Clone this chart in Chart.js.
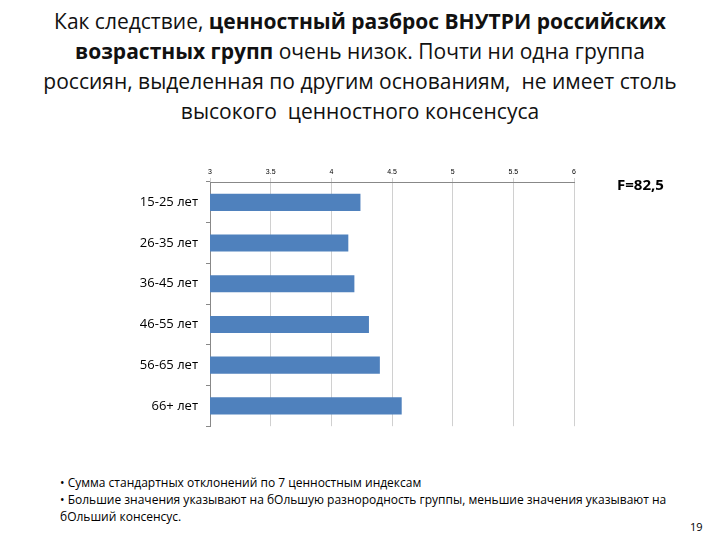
<!DOCTYPE html>
<html><head><meta charset="utf-8">
<script src="https://cdn.jsdelivr.net/npm/chart.js@4"></script>
<style>
body{margin:0;width:720px;height:540px;position:relative;background:#fff;font-family:"Open Sans",sans-serif;overflow:hidden}
#t{position:absolute;left:0;top:6px;width:720px;text-align:center;font-size:21px;line-height:30px;color:#111}
#c{position:absolute;left:0;top:150px}
#f{position:absolute;left:617px;top:174px;font-size:15px;font-weight:bold}
#n{position:absolute;left:60px;top:474px;font-size:12px;line-height:17px;width:620px}
#p{position:absolute;left:690px;top:519px;font-size:11px}
</style></head><body>
<div id="t">Как следствие, <b>ценностный разброс ВНУТРИ российских<br>возрастных групп</b> очень низок. Почти ни одна группа<br>россиян, выделенная по другим основаниям,&nbsp; не имеет столь<br>высокого&nbsp; ценностного консенсуса</div>
<canvas id="c" width="720" height="292"></canvas>
<div id="f">F=82,5</div>
<div id="n">• Сумма стандартных отклонений по 7 ценностным индексам<br>• Большие значения указывают на бОльшую разнородность группы, меньшие значения указывают на бОльший консенсус.</div>
<div id="p">19</div>
<script>
const categories=["15-25 лет","26-35 лет","36-45 лет","46-55 лет","56-65 лет","66+ лет"];
const values=[4.24,4.14,4.19,4.31,4.40,4.58];
const tickValues=[3,3.5,4,4.5,5,5.5,6];
new Chart(document.getElementById('c'),{type:'bar',
data:{labels:categories,datasets:[{data:values,backgroundColor:'#4f81bd',barPercentage:0.42,categoryPercentage:1}]},
options:{indexAxis:'y',responsive:false,animation:false,
layout:{padding:{left:0,right:146,bottom:0,top:0}},
plugins:{legend:{display:false},tooltip:{enabled:false}},
scales:{
x:{position:'top',min:3,max:6,afterBuildTicks:s=>{s.ticks=tickValues.map(v=>({value:v}))},
ticks:{font:{size:7},color:'#000',padding:2,callback:v=>String(v)},
grid:{color:'#d0d0d0',tickLength:4},border:{color:'#888'},afterFit:s=>{s.height=32}},
y:{ticks:{font:{size:13,family:'"Open Sans",sans-serif'},color:'#000',padding:8},
grid:{display:true,drawOnChartArea:false,offset:true,tickLength:4,color:'#888'},border:{color:'#888'},afterFit:s=>{s.width=210}}
}}});
</script></body></html>
